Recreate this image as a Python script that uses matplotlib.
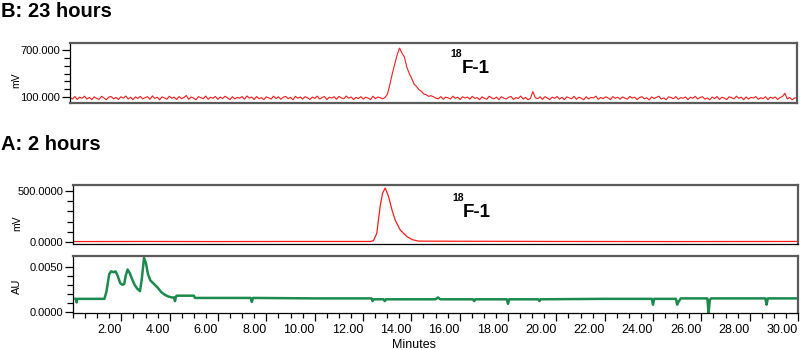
import numpy as np
import matplotlib
matplotlib.use("Agg")
import matplotlib.pyplot as plt
from matplotlib.ticker import MultipleLocator, FixedLocator


# B: 23 hours, radio trace (mV), sampled every 0.1 min from 0 to 30
b_mv = [
    95, 76, 108, 70, 100, 84, 112, 74, 97, 68,
    104, 82, 72, 110, 90, 66, 101, 107, 78, 96,
    70, 105, 86, 114, 75, 99, 67, 103, 84, 109,
    77, 94, 106, 71, 116, 83, 98, 65, 104, 89,
    74, 111, 85, 100, 69, 108, 80, 96, 120, 72,
    102, 88, 66, 106, 93, 79, 113, 73, 99, 85,
    109, 71, 101, 83, 111, 90, 67, 105, 77, 97,
    86, 107, 73, 115, 87, 100, 69, 108, 79, 94,
    68, 103, 91, 75, 112, 82, 104, 72, 98, 109,
    80, 97, 66, 110, 86, 102, 74, 106, 92, 70,
    101, 83, 113, 76, 95, 107, 68, 99, 88, 105,
    73, 109, 90, 79, 114, 85, 102, 69, 96, 82,
    106, 75, 99, 88, 68, 111, 80, 101, 93, 77,
    95, 140, 260, 400, 520, 640, 725, 660, 610, 480,
    400, 340, 265, 235, 195, 175, 140, 130, 110, 118,
    104, 86, 78, 107, 72, 100, 91, 76, 112, 84,
    99, 69, 105, 87, 101, 74, 110, 83, 95, 67,
    103, 86, 73, 111, 90, 78, 100, 68, 106, 88,
    75, 98, 108, 70, 94, 82, 114, 74, 97, 66,
    85, 170, 92, 80, 104, 72, 106, 88, 69, 100,
    84, 108, 74, 98, 67, 103, 90, 79, 110, 72,
    100, 86, 66, 105, 77, 97, 89, 112, 71, 95,
    80, 104, 91, 68, 107, 84, 99, 73, 103, 87,
    74, 109, 88, 100, 69, 94, 106, 78, 92, 65,
    103, 83, 97, 111, 75, 90, 67, 104, 95, 79,
    107, 72, 93, 85, 102, 68, 99, 86, 110, 76,
    96, 105, 74, 89, 66, 101, 81, 108, 70, 98,
    87, 69, 104, 92, 78, 112, 84, 100, 67, 103,
    75, 97, 88, 107, 72, 93, 80, 105, 68, 99,
    84, 102, 71, 94, 108, 150, 77, 96, 65, 90,
    88,
]
b_t = np.arange(len(b_mv)) * 0.1

# A: 2 hours, radio trace (mV)
a_mv_t = [0.0, 3.0, 6.0, 9.0, 12.3, 12.43, 12.57, 12.71, 12.81, 12.92,
          13.06, 13.2, 13.33, 13.54, 13.82, 14.05, 14.3, 20.0, 25.0, 30.0]
a_mv = [4, 5, 4, 5, 5, 12, 85, 350, 480, 530,
        444, 314, 216, 118, 52, 22, 8, 5, 4, 5]

# A: 2 hours, UV trace (AU)
a_au_t = [0.1, 0.13, 0.15, 0.18, 1.3, 1.38, 1.5, 1.58, 1.68, 1.76,
          1.85, 1.95, 2.05, 2.12, 2.18, 2.26, 2.35, 2.45, 2.55, 2.65,
          2.77, 2.84, 2.94, 3.02, 3.1, 3.2, 3.35, 3.5, 3.65, 3.8,
          3.95, 4.1, 4.18, 4.22, 4.26, 4.3, 5.0, 5.05, 7.35, 7.4,
          7.45, 10.0, 12.35, 12.4, 12.45, 12.85, 12.9, 12.95, 13.5, 15.0,
          15.1, 15.2, 16.55, 16.6, 16.65, 17.95, 18.0, 18.05, 19.25, 19.3,
          19.35, 22.0, 23.95, 24.0, 24.05, 24.95, 25.0, 25.05, 25.1, 25.15,
          26.25, 26.3, 26.35, 26.4, 28.65, 28.7, 28.75, 30.0]
a_au = [0.00145, 0.00145, 0.00105, 0.00145, 0.00145, 0.0022, 0.0042, 0.0045, 0.0044, 0.0045,
        0.0040, 0.0032, 0.0030, 0.0031, 0.0040, 0.0047, 0.0043, 0.0036, 0.0030, 0.0026,
        0.0023, 0.0035, 0.0060, 0.0054, 0.0042, 0.0035, 0.0031, 0.0027, 0.0022, 0.0019,
        0.0017, 0.0016, 0.0016, 0.0012, 0.0017, 0.0018, 0.0018, 0.00155, 0.00155, 0.0011,
        0.00155, 0.0015, 0.0015, 0.0012, 0.0014, 0.0014, 0.0012, 0.0014, 0.0014, 0.0014,
        0.0016, 0.0014, 0.0014, 0.0012, 0.0014, 0.0014, 0.0009, 0.0014, 0.0014, 0.0012,
        0.0014, 0.00145, 0.00145, 0.0008, 0.00145, 0.00145, 0.0008, 0.0011, 0.0013, 0.0015,
        0.0015, -0.0001, 0.0013, 0.0015, 0.0015, 0.0008, 0.0015, 0.0015]

x_ticks = [2, 4, 6, 8, 10, 12, 14, 16, 18, 20, 22, 24, 26, 28, 30]
x_labels = ["%.2f" % v for v in x_ticks]

RED = "#ff1a1a"
GREEN = "#1b8a4c"
EDGE = "#5a5a5a"
FONT = "Liberation Sans"

plt.rcParams["font.family"] = [FONT, "DejaVu Sans"]

W, H = 800, 350


def px_axes(fig, left, top, right, bottom):
    return fig.add_axes([left / W, 1 - bottom / H, (right - left) / W, (bottom - top) / H])


def style_box(ax, bottom_black=True):
    for s in ["top", "right"]:
        ax.spines[s].set_color(EDGE)
        ax.spines[s].set_linewidth(1.6)
    ax.spines["left"].set_color("black")
    ax.spines["left"].set_linewidth(0.9)
    if bottom_black:
        ax.spines["bottom"].set_color("black")
        ax.spines["bottom"].set_linewidth(0.9)
    else:
        ax.spines["bottom"].set_color(EDGE)
        ax.spines["bottom"].set_linewidth(1.6)
    ax.tick_params(axis="y", which="major", length=6, width=0.9, pad=1, labelsize=8)
    ax.tick_params(axis="y", which="minor", length=4, width=0.9)
    ax.set_xlim(0, 30)


def place_ylabel(ax, left, right, x_px, frac):
    # x_px: right edge of the rotated label in figure pixels
    ax.yaxis.set_label_coords(-(left - x_px) / (right - left), frac)


fig = plt.figure(figsize=(8, 3.5), dpi=100)

# panel B
axb = px_axes(fig, 70, 43, 797, 103)
axb.plot(b_t, b_mv, color=RED, lw=0.8)
axb.set_ylim(25, 790)
axb.yaxis.set_major_locator(FixedLocator([100, 700]))
axb.yaxis.set_minor_locator(FixedLocator([200, 300, 400, 500, 600]))
axb.set_yticklabels(["100.000", "700.000"])
axb.set_xticks([])
style_box(axb, bottom_black=False)
axb.set_ylabel("mV", fontsize=7.5, labelpad=0)
place_ylabel(axb, 70, 797, 21, 0.38)

# panel A, radio
axa = px_axes(fig, 73, 185, 798, 244)
axa.plot(a_mv_t, a_mv, color=RED, lw=0.9)
axa.set_ylim(-20, 560)
axa.yaxis.set_major_locator(FixedLocator([0, 500]))
axa.yaxis.set_minor_locator(FixedLocator([100, 200, 300, 400]))
axa.set_yticklabels(["0.0000", "500.0000"])
axa.set_xticks([])
style_box(axa)
axa.set_ylabel("mV", fontsize=7.5, labelpad=0)
place_ylabel(axa, 73, 798, 22, 0.36)

# panel A, UV
axu = px_axes(fig, 73, 256, 798, 313)
axu.plot(a_au_t, a_au, color=GREEN, lw=1.8)
axu.set_ylim(-0.00012, 0.0062)
axu.yaxis.set_major_locator(FixedLocator([0.0, 0.005]))
axu.yaxis.set_minor_locator(FixedLocator([0.001, 0.002, 0.003, 0.004]))
axu.set_yticklabels(["0.0000", "0.0050"])
style_box(axu)
axu.set_ylabel("AU", fontsize=8, labelpad=0)
place_ylabel(axu, 73, 798, 22, 0.47)
axu.set_xticks(x_ticks)
axu.set_xticklabels(x_labels, ha="right")
axu.xaxis.set_minor_locator(MultipleLocator(0.5))
axu.tick_params(axis="x", which="major", length=6, width=0.9, pad=2, labelsize=9)
axu.tick_params(axis="x", which="minor", length=3.5, width=0.9)

fig.text(414 / W, 1 - 348 / H, "Minutes", ha="center", va="baseline", fontsize=9)

# titles
fig.text(1 / W, 1 - 17 / H, "B: 23 hours", fontsize=14.5, fontweight="bold", va="baseline")
fig.text(1 / W, 1 - 150 / H, "A: 2 hours", fontsize=14.5, fontweight="bold", va="baseline")

# peak labels
for sx, sy, fx, fy in [(450, 57, 462, 73), (452, 201, 463, 217)]:
    fig.text(sx / W, 1 - sy / H, "18", fontsize=7.5, fontweight="bold", va="baseline")
    fig.text(fx / W, 1 - fy / H, "F-1", fontsize=13.5, fontweight="bold", va="baseline")

fig.savefig("out.png", dpi=100)
